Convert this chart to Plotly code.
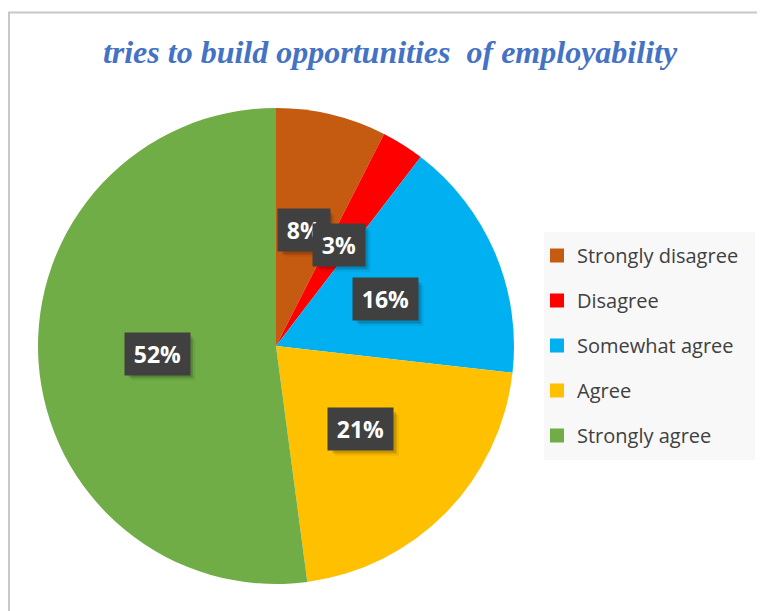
import math
import plotly.graph_objects as go

categories = ["Strongly disagree", "Disagree", "Somewhat agree", "Agree", "Strongly agree"]
values = [7.5, 2.9, 16.4, 21.1, 52.1]
labels = ["8%", "3%", "16%", "21%", "52%"]
colors = ["#C55A11", "#FF0000", "#00B0F0", "#FFC000", "#70AD47"]
title_text = "tries to build opportunities  of employability"

# The page places the figure 8px from the window's top-left corner.
OFF = 8
FW, FH = 765 - OFF, 611 - OFF


def px_x(X):
    return (X - OFF) / FW


def px_y(Y):
    return (611 - Y) / FH


dom_x = [px_x(38), px_x(514)]
dom_y = [px_y(584), px_y(108)]

fig = go.Figure()
fig.add_trace(go.Pie(
    labels=categories, values=values, sort=False, direction="clockwise",
    rotation=0, marker=dict(colors=colors, line=dict(width=0)),
    textinfo="none", hoverinfo="label+percent", showlegend=False,
    domain=dict(x=dom_x, y=dom_y),
))

for c, col in zip(categories, colors):
    fig.add_trace(go.Scatter(
        x=[None], y=[None], mode="markers", name=c, legendgroup=c,
        marker=dict(symbol="square", size=14, color=col),
    ))

cx = (dom_x[0] + dom_x[1]) / 2 * FW
cy = (dom_y[0] + dom_y[1]) / 2 * FH
R = (dom_x[1] - dom_x[0]) * FW / 2
total = sum(values)
cum = 0
shapes = []
for v, lab in zip(values, labels):
    mid = (cum + v / 2) / total * 2 * math.pi
    cum += v
    ax = (cx + 0.5 * R * math.sin(mid)) / FW
    ay = (cy + 0.5 * R * math.cos(mid)) / FH
    w = 50 if len(lab) == 2 else 64
    h = 41
    for k, a in ((6, 0.06), (4, 0.10), (3, 0.08)):
        shapes.append(dict(type="rect", xref="paper", yref="paper",
                           xsizemode="pixel", ysizemode="pixel",
                           xanchor=ax, yanchor=ay,
                           x0=-w / 2 + k, x1=w / 2 + k, y0=-h / 2 - k, y1=h / 2 - k,
                           fillcolor="rgba(0,0,0,%g)" % a, line=dict(width=0),
                           layer="above"))
    fig.add_annotation(x=ax, y=ay, xref="paper", yref="paper",
                       xanchor="center", yanchor="middle",
                       text="<b>\u2009" + lab + "\u2009</b>", showarrow=False,
                       font=dict(family="Open Sans", size=23, color="white"),
                       bgcolor="#404040", borderpad=5)

shapes.append(dict(type="rect", xref="paper", yref="paper",
                   x0=px_x(9), x1=1.05, y0=-0.05, y1=px_y(12.5),
                   line=dict(color="#C8C8C8", width=2), layer="below"))
shapes.append(dict(type="rect", xref="paper", yref="paper",
                   x0=px_x(544), x1=px_x(755), y0=px_y(460), y1=px_y(232),
                   fillcolor="#F8F8F8", line=dict(width=0), layer="below"))

fig.update_layout(
    width=FW, height=FH,
    margin=dict(l=0, r=0, t=0, b=0),
    paper_bgcolor="white", plot_bgcolor="rgba(0,0,0,0)",
    xaxis=dict(visible=False), yaxis=dict(visible=False),
    title=dict(text="<b><i>" + title_text + "</i></b>", x=px_x(390), xanchor="center",
               y=px_y(52), yanchor="middle",
               font=dict(family="Liberation Serif", size=32, color="#4472C4")),
    legend=dict(x=px_x(537), y=px_y(236), xanchor="left", yanchor="top",
                bgcolor="rgba(0,0,0,0)", tracegroupgap=16,
                font=dict(family="Open Sans", size=20, color="#404040"),
                itemwidth=30),
    shapes=shapes,
)

fig.write_html("out.html")
